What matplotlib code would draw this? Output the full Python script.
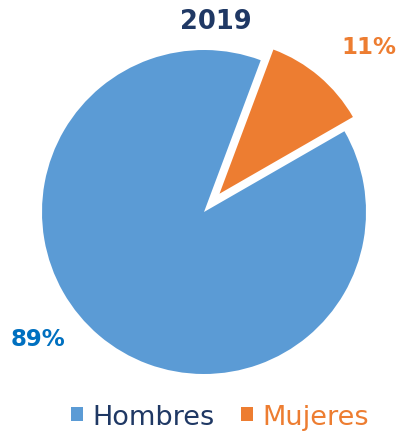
import matplotlib
matplotlib.use("Agg")
import matplotlib.pyplot as plt
from matplotlib.patches import Patch

title = "2019"
categories = ["Mujeres", "Hombres"]
values = [11, 89]
colors = ["#ED7D31", "#5B9BD5"]
label_colors = ["#ED7D31", "#0070C0"]
legend_order = ["Hombres", "Mujeres"]
legend_text_colors = {"Hombres": "#1F3864", "Mujeres": "#ED7D31"}

W, H = 402, 435
fig = plt.figure(figsize=(W / 100, H / 100), dpi=100)

R = 162.0
cx, cy = 204.0, 213.0
lim = 1.2
ax = fig.add_axes([(cx - lim * R) / W, (H - cy - lim * R) / H, 2 * lim * R / W, 2 * lim * R / H])

wedges, _ = ax.pie(values, colors=colors, startangle=69.5, counterclock=False,
                   explode=[0.148, 0], radius=1.0,
                   wedgeprops=dict(linewidth=0))
wedges[0].set_radius(0.95)
ax.set_xlim(-lim, lim)
ax.set_ylim(-lim, lim)
ax.set_aspect("auto")
ax.axis("off")

def px(x, y):
    return (x / W, 1 - y / H)

fig.text(*px(216, 22), title, ha="center", va="center", fontsize=18.5,
         fontweight="bold", color="#1F3864")
fig.text(*px(369, 48), f"{values[0]}%", ha="center", va="center", fontsize=16.5,
         fontweight="bold", color=label_colors[0])
fig.text(*px(38, 340), f"{values[1]}%", ha="center", va="center", fontsize=16.5,
         fontweight="bold", color=label_colors[1])

handles = [Patch(facecolor=colors[categories.index(c)], edgecolor="none") for c in legend_order]
leg = fig.legend(handles, legend_order, loc="center", bbox_to_anchor=px(220, 418),
                 ncol=2, frameon=False, fontsize=19.5, handlelength=0.42, handleheight=0.42,
                 handletextpad=0.35, columnspacing=1.0)
for t in leg.get_texts():
    t.set_color(legend_text_colors[t.get_text()])

fig.savefig("out.png", dpi=100)
